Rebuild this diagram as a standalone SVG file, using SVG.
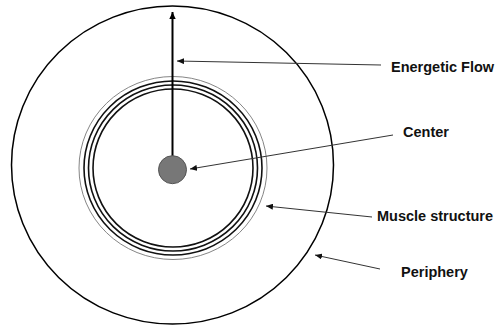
<svg xmlns="http://www.w3.org/2000/svg" width="496" height="325" viewBox="0 0 496 325">
<style>
.lbl{font-family:"Liberation Sans",Arial,sans-serif;font-weight:bold;font-size:14.5px;fill:#111}
.ring{fill:none;stroke:#111;stroke-width:1.6}
.thin{fill:none;stroke:#777;stroke-width:0.9}
.lead{fill:none;stroke:#333;stroke-width:1}
</style>
<defs>
<marker id="ah" markerUnits="userSpaceOnUse" markerWidth="8" markerHeight="6" refX="7" refY="3" orient="auto">
<path d="M0,0 L7,3 L0,6 Z" fill="#111"/>
</marker>
<marker id="ahBig" markerUnits="userSpaceOnUse" markerWidth="8" markerHeight="7" refX="7" refY="3.2" orient="auto">
<path d="M0,0 L7,3.2 L0,6.4 Z" fill="#000"/>
</marker>
</defs>
<rect width="496" height="325" fill="#fff"/>
<g id="periphery">
<ellipse cx="172.5" cy="165" rx="161" ry="159" fill="none" stroke="#000" stroke-width="1.5"/>
</g>
<g id="muscle-structure">
<ellipse class="thin" cx="173" cy="168" rx="94" ry="91.5"/>
<ellipse class="ring" cx="173" cy="168" rx="89" ry="87"/>
<ellipse class="ring" cx="173" cy="168" rx="84.5" ry="83"/>
<ellipse class="ring" cx="173" cy="168" rx="80" ry="79"/>
</g>
<g id="energetic-flow">
<line x1="172.5" y1="157" x2="172.5" y2="12" stroke="#000" stroke-width="2" marker-end="url(#ahBig)"/>
</g>
<g id="center">
<circle cx="172.5" cy="169.7" r="14" fill="#777" stroke="#555" stroke-width="1"/>
</g>
<g id="connectors">
<line class="lead" x1="381" y1="65" x2="177" y2="61" marker-end="url(#ah)"/>
<line class="lead" x1="393" y1="135" x2="190" y2="169" marker-end="url(#ah)"/>
<line class="lead" x1="372" y1="217" x2="266" y2="206" marker-end="url(#ah)"/>
<line class="lead" x1="380" y1="269" x2="315" y2="255" marker-end="url(#ah)"/>
</g>
<g id="labels">
<text class="lbl" x="391" y="72">Energetic Flow</text>
<text class="lbl" x="403" y="137">Center</text>
<text class="lbl" x="377" y="221">Muscle structure</text>
<text class="lbl" x="401" y="277">Periphery</text>
</g>
</svg>
